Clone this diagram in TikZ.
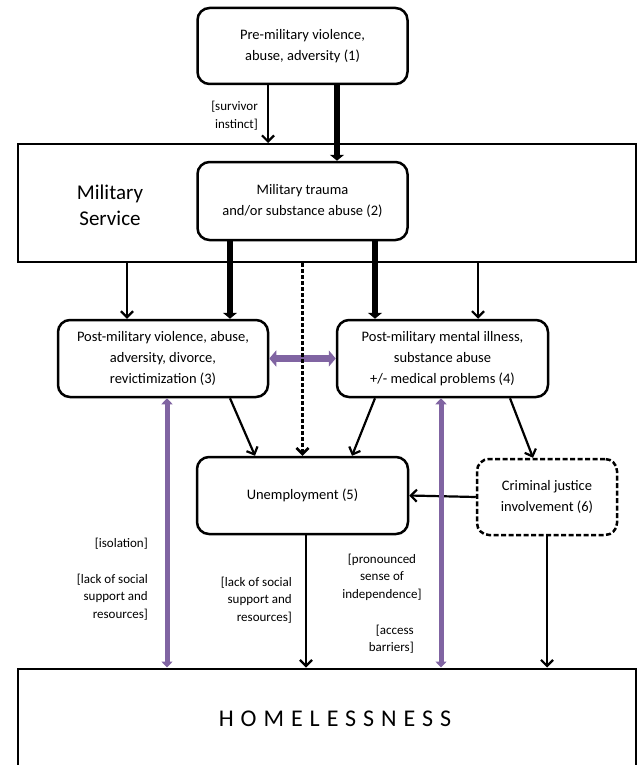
\documentclass[tikz,border=0pt]{standalone}
\usepackage{fontspec}
\setmainfont{Carlito}
\usetikzlibrary{arrows.meta,calc}
\definecolor{lilac}{HTML}{8064A2}

\begin{document}
\begin{tikzpicture}[x=1pt,y=-1pt,
  box/.style={draw,line width=2.5pt,rounded corners=12pt,fill=white,align=center,inner sep=0pt,font=\fontsize{14.5}{21}\selectfont},
  frame/.style={draw,line width=2pt,inner sep=0pt},
  lbl/.style={inner sep=0pt,font=\fontsize{13}{17.5}\selectfont},
  thinarr/.style={line width=2.2pt,-{Straight Barb[length=6pt,width=12pt]}},
  thickarr/.style={line width=6pt,-{Triangle[length=6pt,width=14pt]}},
  link/.style={draw=lilac,line width=5pt,{Triangle[length=6pt,width=11pt]}-{Triangle[length=6pt,width=11pt]}},
  linkwide/.style={draw=lilac,line width=7pt,{Triangle[length=7pt,width=16pt]}-{Triangle[length=7pt,width=16pt]}}]
\clip (0,0) rectangle (640,765);
% frames
\node[frame,minimum width=618pt,minimum height=118pt] (mil) at (327,203) {};
\node[frame,minimum width=618pt,minimum height=140pt,anchor=north] (home) at (327,667.5) {};
\node[align=center,font=\fontsize{21}{26}\selectfont] (miltxt) at (110,205) {Military\\Service};
\node[font=\fontsize{24}{28}\selectfont\addfontfeature{LetterSpace=29}] (hometxt) at (335,719) {HOMELESSNESS};
% boxes
\node[box,minimum width=210pt,minimum height=76pt] (pre) at (302.5,46) {Pre-military violence,\\abuse, adversity (1)};
\node[box,minimum width=210pt,minimum height=78pt] (trauma) at (302.5,201) {Military trauma\\and/or substance abuse (2)};
\node[box,minimum width=210pt,minimum height=77pt] (viol) at (163,358.5) {Post-military violence, abuse,\\adversity, divorce,\\revictimization (3)};
\node[box,minimum width=211pt,minimum height=77pt] (ill) at (442.5,358.5) {Post-military mental illness,\\substance abuse\\+/- medical problems (4)};
\node[box,minimum width=211pt,minimum height=77pt] (unemp) at (302.5,495.5) {Unemployment (5)};
\node[box,dash pattern=on 5pt off 2.5pt,minimum width=140pt,minimum height=76pt] (crim) at (547,497) {Criminal justice\\involvement (6)};
% labels
\node[lbl,align=right,anchor=east] (surv) at (258,115.5) {[survivor\\instinct]};
\node[lbl,anchor=east] (isol) at (148,544) {[isolation]};
\node[lbl,align=right,anchor=east] (lack1) at (148,597) {[lack of social\\support and\\resources]};
\node[lbl,align=right,anchor=east] (lack2) at (292,600) {[lack of social\\support and\\resources]};
\node[lbl,align=center] (indep) at (382,577) {[pronounced\\sense of\\independence]};
\node[lbl,align=right,anchor=east] (access) at (414,639) {[access\\barriers]};
% arrows
\draw[thinarr] ($(pre.south)+(-34.5,0)$) coordinate (a1) -- (a1 |- mil.north);
\draw[thickarr] ($(pre.south)+(34.5,0)$) coordinate (a2) -- (a2 |- trauma.north);
\path ($(viol.north)+(-36,0)$) coordinate (a3) ($(ill.north)+(35.5,0)$) coordinate (a6);
\draw[thinarr] (a3 |- mil.south) -- (a3);
\draw[thickarr] ($(trauma.south)+(-72.5,0)$) coordinate (a4) -- (a4 |- viol.north);
\draw[thickarr] ($(trauma.south)+(72.5,0)$) coordinate (a5) -- (a5 |- ill.north);
\draw[thinarr] (a6 |- mil.south) -- (a6);
\draw[linkwide] (viol.east) -- (ill.west);
\draw[thinarr,line width=2.5pt,dash pattern=on 4pt off 2pt] (unemp.north |- mil.south) -- (unemp.north);
\draw[thinarr] ($(viol.south)+(67,0)$) -- ($(unemp.north)+(-47.5,0)$);
\draw[thinarr] ($(ill.south)+(-67.5,0)$) -- ($(unemp.north)+(49.5,0)$);
\draw[thinarr] ($(ill.south)+(67.5,0)$) -- ($(crim.north)+(-14,0)$);
\draw[thinarr] (crim.west) -- (unemp.east);
\draw[thinarr] ($(unemp.south)+(3.5,0)$) coordinate (a7) -- (a7 |- home.north);
\draw[thinarr] (crim.south) -- (crim.south |- home.north);
\draw[link] ($(viol.south)+(4,0)$) coordinate (p1) -- (p1 |- home.north);
\draw[link] ($(ill.south)+(-1.5,0)$) coordinate (p2) -- (p2 |- home.north);
\end{tikzpicture}
\end{document}
